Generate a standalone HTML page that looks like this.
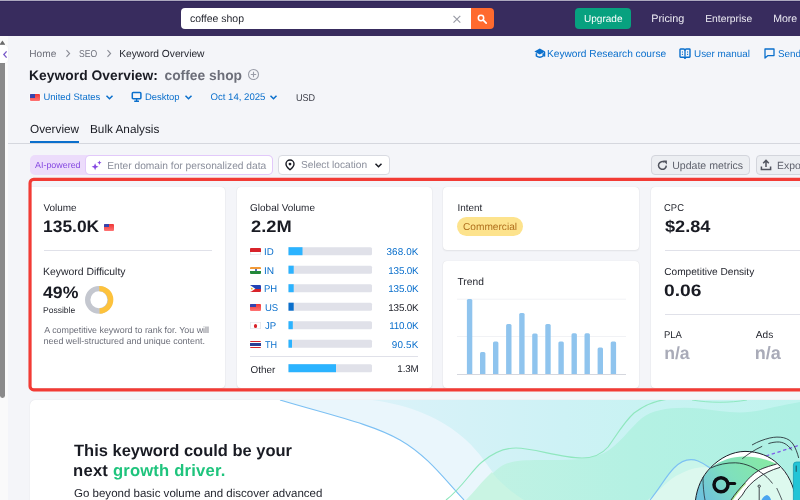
<!DOCTYPE html>
<html lang="en">
<head>
<meta charset="utf-8">
<title>Keyword Overview</title>
<style>
*{box-sizing:border-box;margin:0;padding:0}
html,body{width:800px;height:500px;overflow:hidden}
body{position:relative;background:#f4f5f9;font-family:"Liberation Sans",sans-serif;color:#191b23;-webkit-font-smoothing:antialiased;text-rendering:geometricPrecision}
.a{position:absolute}
.t{position:absolute;white-space:nowrap;line-height:1;transform-origin:0 0;top:calc(var(--b) + var(--c,0px) - .8465em)}
.b{font-weight:bold}
.blue{color:#0a6fcc}
.gray{color:#6c6e79}
.card{position:absolute;background:#fff;border-radius:4px;box-shadow:0 0 1px rgba(25,27,35,.14),0 1px 2px rgba(25,27,35,.07)}
.hr{position:absolute;height:1px;background:#e0e1e9}
.flag{position:absolute;width:10px;height:8px;overflow:hidden;border-radius:1px}
.bar{position:absolute;left:288.5px;width:83.5px;height:8px;background:#e0e1e9;border-radius:0 1.5px 1.5px 0;overflow:hidden}
.bar i{position:absolute;left:0;top:0;height:8px;background:#2bb3ff}
.tb{position:absolute;width:5px;background:#92c6ee;bottom:0}
</style>
</head>
<body>
<!-- top strip + header -->
<div class="a" style="left:0;top:0;width:800px;height:36px;background:#382c5e"></div>
<div class="a" style="left:0;top:0;width:800px;height:1px;background:#aca8be"></div>
<div class="a" style="left:0;top:1px;width:800px;height:1px;background:#2f2459"></div>

<!-- search -->
<div class="a" style="left:181px;top:7.5px;width:290px;height:21.8px;background:#fff;border-radius:4px 0 0 4px"></div>
<div class="t" id="h0" style="left:190px;--b:22px;--c:2.0px;font-size:10.49px;color:#1f212a">coffee shop</div>
<svg class="a" style="left:452px;top:14px" width="10" height="10" viewBox="0 0 10 10"><path d="M1.5 1.8 L8.3 8.6 M8.3 1.8 L1.5 8.6" stroke="#9a9ca6" stroke-width="1.2" fill="none"/></svg>
<div class="a" style="left:470.5px;top:7.5px;width:23.3px;height:21.8px;background:#ff6a2e;border-radius:0 4px 4px 0"></div>
<svg class="a" style="left:476px;top:13px" width="13" height="13" viewBox="0 0 13 13"><circle cx="5" cy="5" r="2.7" stroke="#fff" stroke-width="1.5" fill="none"/><path d="M7.2 7.2 L10.2 10.2" stroke="#fff" stroke-width="1.7" stroke-linecap="round"/></svg>

<!-- upgrade -->
<div class="a" style="left:575px;top:7.5px;width:56.3px;height:21.8px;background:#07a17f;border-radius:4px"></div>
<div class="t" id="h1" style="left:584px;--b:22px;--c:2.0px;font-size:10.05px;color:#fff">Upgrade</div>
<div class="t" id="h2" style="left:651.2px;--b:22px;--c:1.0px;font-size:10.81px;color:#ecebf3">Pricing</div>
<div class="t" id="h3" style="left:705.2px;--b:22px;--c:2.0px;font-size:10.32px;color:#ecebf3">Enterprise</div>
<div class="t" id="h4" style="left:773.2px;--b:22px;--c:1.0px;font-size:10.56px;color:#ecebf3">More</div>

<!-- left scrollbar & collapse -->
<div class="a" style="left:0;top:36px;width:7.6px;height:464px;background:#fafafa"></div>
<div class="a" style="left:0;top:43.5px;width:4.8px;height:354px;background:#8a8a8a;border-radius:0 0 2.4px 2.4px"></div>
<svg class="a" style="left:0;top:39.5px" width="6" height="4" viewBox="0 0 6 4"><path d="M0 4 L2.4 0.6 L4.8 4 Z" fill="#6a6a6a"/></svg>
<div class="a" style="left:-4px;top:44.8px;width:11.8px;height:18.4px;background:#fff;border-radius:3.5px;box-shadow:0 0 1px rgba(0,0,0,.12)"></div>
<svg class="a" style="left:2.4px;top:49.8px" width="6" height="9" viewBox="0 0 6 9"><path d="M4.6 1.4 L1.8 4.5 L4.6 7.6" stroke="#7a5cc9" stroke-width="1.3" fill="none"/></svg>


<!-- breadcrumbs -->
<div class="t gray" id="bc1" style="left:29.25px;--b:56.7px;--c:2.0px;font-size:10.13px">Home</div>
<svg class="a" style="left:65px;top:49px" width="6" height="9" viewBox="0 0 6 9"><path d="M1.5 1.2 L4.6 4.5 L1.5 7.8" stroke="#8a8c96" stroke-width="1.1" fill="none"/></svg>
<div class="t gray" id="bc2" style="left:78.5px;--b:56.7px;--c:2.0px;font-size:9.9px;transform:scaleX(0.87)">SEO</div>
<svg class="a" style="left:106px;top:49px" width="6" height="9" viewBox="0 0 6 9"><path d="M1.5 1.2 L4.6 4.5 L1.5 7.8" stroke="#8a8c96" stroke-width="1.1" fill="none"/></svg>
<div class="t" id="bc3" style="left:119.2px;--b:56.7px;--c:2.0px;font-size:10.24px;color:#1f212a">Keyword Overview</div>

<!-- right links -->
<svg class="a" style="left:533.6px;top:48.4px" width="12" height="11" viewBox="0 0 12 11"><path d="M5.8 0.6 L11.2 3.5 L5.8 6.4 L0.4 3.5 Z" fill="#0a6fcc"/><path d="M3 3.5 L5.8 2.2 L8.6 3.5 L5.8 4.9 Z" fill="#f4f5f9" opacity=".0"/><path d="M2.4 5.2 V8 Q5.8 10.6 9.2 8 V5.2" fill="none" stroke="#0a6fcc" stroke-width="1.5"/><path d="M10.6 3.8 V8.6" stroke="#0a6fcc" stroke-width="1.3"/></svg>
<div class="t blue" id="rl1" style="left:547px;--b:56.7px;--c:2.0px;font-size:10.16px">Keyword Research course</div>
<svg class="a" style="left:679px;top:47.6px" width="12" height="12" viewBox="0 0 12 12"><path d="M1 1.6 Q1 1 1.6 1 H4.6 Q6 1 6 2.2 Q6 1 7.4 1 H10.4 Q11 1 11 1.6 V8.6 Q11 9.2 10.4 9.2 H7.4 Q6 9.2 6 10.4 Q6 9.2 4.6 9.2 H1.6 Q1 9.2 1 8.6 Z" fill="none" stroke="#0a6fcc" stroke-width="1.4" stroke-linejoin="round"/><path d="M6 2 V10.6" stroke="#0a6fcc" stroke-width="1.3"/><path d="M3.4 3.4 V4.6 M3.4 5.8 V7 M8.6 3.4 V4.6 M8.6 5.8 V7" stroke="#0a6fcc" stroke-width="1"/></svg>
<div class="t blue" id="rl2" style="left:694px;--b:56.7px;--c:2.0px;font-size:9.88px">User manual</div>
<svg class="a" style="left:764px;top:48px" width="11" height="11" viewBox="0 0 11 11"><path d="M1 1 H10 V7.6 H4 L1 10 Z" fill="none" stroke="#0a6fcc" stroke-width="1.3" stroke-linejoin="round"/></svg>
<div class="t blue" id="rl3" style="left:778px;--b:56.7px;--c:2.0px;font-size:9.9px">Send feedback</div>

<!-- title -->
<div class="t b" id="ti1" style="left:29.1px;--b:79.8px;--c:1.0px;font-size:13.8px;letter-spacing:0.05px;color:#191b23">Keyword Overview:</div>
<div class="t b" id="ti2" style="left:164.5px;--b:79.8px;--c:1.0px;font-size:13.82px;color:#6c6e79">coffee shop</div>
<svg class="a" style="left:246.8px;top:68.4px" width="13" height="13" viewBox="0 0 13 13"><circle cx="6.5" cy="6.5" r="5" fill="none" stroke="#9a9da8" stroke-width="1.1"/><path d="M6.5 3.8 V9.2 M3.8 6.5 H9.2" stroke="#9a9da8" stroke-width="1.1"/></svg>

<!-- selectors -->
<div class="flag" style="left:30px;top:93.8px;width:10px;height:7.1px;background:linear-gradient(#ee3535,#ff7474);box-shadow:0 0 0 .6px rgba(255,255,255,.7)"><div class="a" style="left:0;top:0;width:5px;height:3.8px;background:#3544ad"></div></div>
<div class="t blue" id="s1" style="left:43.5px;--b:99.8px;--c:1.0px;font-size:9.46px">United States</div>
<svg class="a" style="left:105px;top:94px" width="9" height="7" viewBox="0 0 9 7"><path d="M1.5 1.8 L4.5 4.8 L7.5 1.8" stroke="#0a6fcc" stroke-width="1.5" fill="none"/></svg>
<svg class="a" style="left:131.2px;top:91.2px" width="11" height="12" viewBox="0 0 11 12"><rect x="1.3" y="1.5" width="8.6" height="6.2" rx="0.9" fill="none" stroke="#0a6fcc" stroke-width="1.5"/><path d="M5.6 7.8 V10 M3.2 10.3 H8" stroke="#0a6fcc" stroke-width="1.4"/></svg>
<div class="t blue" id="s2" style="left:145px;--b:99.8px;--c:0.0px;font-size:9.43px">Desktop</div>
<svg class="a" style="left:184px;top:94px" width="9" height="7" viewBox="0 0 9 7"><path d="M1.5 1.8 L4.5 4.8 L7.5 1.8" stroke="#0a6fcc" stroke-width="1.5" fill="none"/></svg>
<div class="t blue" id="s3" style="left:210.5px;--b:99.8px;--c:1.0px;font-size:9.61px">Oct 14, 2025</div>
<svg class="a" style="left:269px;top:94px" width="9" height="7" viewBox="0 0 9 7"><path d="M1.5 1.8 L4.5 4.8 L7.5 1.8" stroke="#0a6fcc" stroke-width="1.5" fill="none"/></svg>
<div class="t" id="s4" style="left:296px;--b:101px;--c:1.0px;font-size:9.9px;transform:scaleX(0.917);color:#3a3c46">USD</div>

<!-- tabs -->
<div class="t" id="tb1" style="left:30px;--b:133px;--c:1.0px;font-size:11.77px;color:#191b23">Overview</div>
<div class="t" id="tb2" style="left:90px;--b:133px;--c:1.0px;font-size:11.78px;color:#191b23">Bulk Analysis</div>
<div class="a" style="left:8px;top:143px;width:792px;height:1px;background:#d5d7de"></div>
<div class="a" style="left:30px;top:140.6px;width:49px;height:2.6px;background:#0a6fcc"></div>

<!-- filter row -->
<div class="a" style="left:29.5px;top:154.7px;width:243.7px;height:20.6px;background:#ecdcfb;border-radius:5px"></div>
<div class="a" style="left:86px;top:156.4px;width:186px;height:17.6px;background:#fff;border-radius:4px;box-shadow:0 0 0 1px #e2c9fa"></div>
<div class="t" id="ai" style="left:35px;--b:168.2px;--c:0.0px;font-size:8.92px;color:#8649e1">AI-powered</div>
<svg class="a" style="left:91px;top:160.2px" width="11" height="11" viewBox="0 0 11 11"><path d="M4.10 3.20 L5.08 5.72 L7.60 6.70 L5.08 7.68 L4.10 10.20 L3.12 7.68 L0.60 6.70 L3.12 5.72 Z" fill="#8649e1"/><path d="M8.40 0.50 L9.06 2.04 L10.60 2.70 L9.06 3.36 L8.40 4.90 L7.74 3.36 L6.20 2.70 L7.74 2.04 Z" fill="#8649e1"/></svg>
<div class="t" id="ph" style="left:107.2px;--b:168.7px;--c:2.0px;font-size:10.22px;color:#8a8e9b">Enter domain for personalized data</div>

<div class="a" style="left:277.8px;top:155.2px;width:112.2px;height:19.4px;background:#fff;border:1px solid #d9dbe2;border-radius:4px"></div>
<svg class="a" style="left:283.7px;top:159.4px" width="12" height="12" viewBox="0 0 12 12"><path d="M6 10.8 Q2 7.6 2 5 A4 4 0 0 1 10 5 Q10 7.6 6 10.8 Z" fill="none" stroke="#191b23" stroke-width="1.4" stroke-linejoin="round"/><circle cx="6" cy="5.1" r="1.4" fill="#191b23"/></svg>
<div class="t" id="sl" style="left:301px;--b:168px;--c:2.0px;font-size:10.17px;color:#8a8e9b">Select location</div>
<svg class="a" style="left:374px;top:162px" width="9" height="7" viewBox="0 0 9 7"><path d="M1.5 1.8 L4.5 4.8 L7.5 1.8" stroke="#191b23" stroke-width="1.5" fill="none"/></svg>

<div class="a" style="left:651px;top:155.4px;width:98.6px;height:19.2px;background:#eceef2;border:1px solid #d3d5dc;border-radius:4px"></div>
<svg class="a" style="left:656.6px;top:159.6px" width="11" height="11" viewBox="0 0 11 11"><path d="M9.3 5.6 A3.9 3.9 0 1 1 7.6 2.2" fill="none" stroke="#50535e" stroke-width="1.5"/><path d="M6 0.6 H9.9 V4.5 Z" fill="#50535e"/></svg>
<div class="t" id="um" style="left:672.2px;--b:168.7px;--c:1.0px;font-size:10.56px;color:#5e616c">Update metrics</div>
<div class="a" style="left:755.6px;top:155.4px;width:60px;height:19.2px;background:#eceef2;border:1px solid #d3d5dc;border-radius:4px"></div>
<svg class="a" style="left:760px;top:159px" width="12" height="12" viewBox="0 0 12 12"><path d="M6 8 V1.8 M3.2 4.2 L6 1.4 L8.8 4.2" fill="none" stroke="#50535e" stroke-width="1.5"/><path d="M1.4 7.4 V10.4 H10.6 V7.4" fill="none" stroke="#50535e" stroke-width="1.5"/></svg>
<div class="t" id="ex" style="left:777px;--b:168.7px;--c:2.0px;font-size:10.4px;color:#5e616c">Export</div>

<!-- SECTION:TOP-END -->

<!-- cards -->
<div class="card" style="left:29.2px;top:187px;width:196.1px;height:200.7px;border-radius:0 4px 4px 0"></div>
<div class="card" style="left:236.6px;top:187px;width:195.4px;height:200.7px"></div>
<div class="card" style="left:442.8px;top:187px;width:196.2px;height:63px"></div>
<div class="card" style="left:442.8px;top:260.5px;width:196.2px;height:127.2px"></div>
<div class="card" style="left:651px;top:187px;width:195px;height:200.7px"></div>

<!-- card 1 -->
<div class="t" id="c1a" style="left:43.5px;--b:211px;--c:1.0px;font-size:9.95px;color:#1f212a">Volume</div>
<div class="t b" id="c1b" style="left:42.5px;--b:232.3px;--c:1.0px;font-size:16.6px;transform:scaleX(1.05);color:#191b23">135.0K</div>
<div class="flag" style="left:104px;top:223.5px;width:9.6px;height:7.1px;background:linear-gradient(#ee3535,#ff7474);box-shadow:0 0 0 .6px rgba(255,255,255,.7)"><div class="a" style="left:0;top:0;width:4.8px;height:3.8px;background:#3544ad"></div></div>
<div class="hr" style="left:43.5px;top:250px;width:168.5px"></div>
<div class="t" id="c1c" style="left:43px;--b:275px;--c:2.0px;font-size:10.41px;color:#1f212a">Keyword Difficulty</div>
<div class="t b" id="c1d" style="left:43.2px;--b:298.2px;--c:1.0px;font-size:16.6px;transform:scaleX(1.065);color:#191b23">49%</div>
<div class="t" id="c1e" style="left:43px;--b:313px;--c:0.0px;font-size:8.5px;color:#1f212a">Possible</div>
<svg class="a" style="left:84px;top:285px" width="30" height="30" viewBox="0 0 30 30"><circle cx="14.9" cy="14.8" r="11.2" fill="none" stroke="#c4c7cf" stroke-width="5.4"/><path d="M15.3 3.6 A11.2 11.2 0 0 1 15.6 26" fill="none" stroke="#fdc23c" stroke-width="5.4"/></svg>
<div class="t gray" id="c1f" style="left:44.25px;--b:333px;--c:1.0px;font-size:8.9px">A competitive keyword to rank for. You will</div>
<div class="t gray" id="c1g" style="left:43.5px;--b:344px;--c:1.0px;font-size:8.95px">need well-structured and unique content.</div>

<!-- card 2 -->
<div class="t" id="c2a" style="left:250.1px;--b:211px;--c:1.0px;font-size:9.97px;color:#1f212a">Global Volume</div>
<div class="t b" id="c2b" style="left:250.6px;--b:232.1px;--c:1.0px;font-size:16.6px;transform:scaleX(1.101);color:#191b23">2.2M</div>

<div class="flag" style="left:250.4px;top:248.1px;width:10.5px;height:7.4px;background:#fff;box-shadow:inset 0 0 0 .6px #d9dbe1;"><div class="a" style="left:0;top:0;width:100%;height:50%;background:#d8232a"></div></div>
<div class="t blue" id="g0a" style="left:263.8px;--b:254.75px;--c:2.0px;font-size:9.9px;transform:scaleX(0.986)">ID</div>
<svg class="a" style="left:280px;top:240px" width="100" height="140" viewBox="280 240 100 140"><path d="M288.5 247.2 H370.5 Q372 247.2 372 248.7 V253.7 Q372 255.2 370.5 255.2 H288.5 Z" fill="#e0e1e9"/><rect x="288.5" y="247.2" width="14.0" height="8" fill="#2bb3ff"/><path d="M288.5 265.7 H370.5 Q372 265.7 372 267.2 V272.2 Q372 273.7 370.5 273.7 H288.5 Z" fill="#e0e1e9"/><rect x="288.5" y="265.7" width="5.2" height="8" fill="#2bb3ff"/><path d="M288.5 284.2 H370.5 Q372 284.2 372 285.7 V290.7 Q372 292.2 370.5 292.2 H288.5 Z" fill="#e0e1e9"/><rect x="288.5" y="284.2" width="5.2" height="8" fill="#2bb3ff"/><path d="M288.5 302.7 H370.5 Q372 302.7 372 304.2 V309.2 Q372 310.7 370.5 310.7 H288.5 Z" fill="#e0e1e9"/><rect x="288.5" y="302.7" width="5.2" height="8" fill="#0a6fcc"/><path d="M288.5 321.2 H370.5 Q372 321.2 372 322.7 V327.7 Q372 329.2 370.5 329.2 H288.5 Z" fill="#e0e1e9"/><rect x="288.5" y="321.2" width="4.3" height="8" fill="#2bb3ff"/><path d="M288.5 339.7 H370.5 Q372 339.7 372 341.2 V346.2 Q372 347.7 370.5 347.7 H288.5 Z" fill="#e0e1e9"/><rect x="288.5" y="339.7" width="3.5" height="8" fill="#2bb3ff"/><path d="M288.5 364.2 H370.5 Q372 364.2 372 365.7 V370.7 Q372 372.2 370.5 372.2 H288.5 Z" fill="#e0e1e9"/><rect x="288.5" y="364.2" width="47.5" height="8" fill="#2bb3ff"/></svg><div class="t blue" id="g0b" style="right:381.5px;--b:254.75px;--c:2.0px;font-size:9.9px;letter-spacing:0.13px">368.0K</div>
<div class="flag" style="left:250.4px;top:266.6px;width:10.5px;height:7.4px;background:#fff;"><div class="a" style="left:0;top:0;width:100%;height:34%;background:#f29a38"></div><div class="a" style="left:0;bottom:0;width:100%;height:34%;background:#23883a"></div><div class="a" style="left:4.2px;top:2.7px;width:2px;height:2px;border-radius:1px;background:#2a3a9a"></div></div>
<div class="t blue" id="g1a" style="left:263.8px;--b:274px;--c:1.0px;font-size:9.9px;transform:scaleX(1.028)">IN</div>
<div class="t blue" id="g1b" style="right:381.5px;--b:274px;--c:1.0px;font-size:9.9px;letter-spacing:-0.18px">135.0K</div>
<div class="flag" style="left:250.4px;top:285.1px;width:10.5px;height:7.4px;background:#fff;"><div class="a" style="left:0;top:0;width:100%;height:50%;background:#2343b5"></div><div class="a" style="left:0;bottom:0;width:100%;height:50%;background:#d8232a"></div><svg class="a" style="left:0;top:0" width="6" height="7.4" viewBox="0 0 6 7.4"><path d="M0 0 L5.4 3.7 L0 7.4 Z" fill="#fff"/><circle cx="1.8" cy="3.7" r="0.9" fill="#f5c12e"/></svg></div>
<div class="t blue" id="g2a" style="left:263.8px;--b:291.75px;--c:2.0px;font-size:9.9px;transform:scaleX(0.962)">PH</div>
<div class="t blue" id="g2b" style="right:381.5px;--b:291.75px;--c:2.0px;font-size:9.9px;letter-spacing:-0.18px">135.0K</div>
<div class="flag" style="left:250.4px;top:303.6px;width:10.5px;height:7.4px;background:#fff;"><div class="a" style="left:0;top:0;width:100%;height:100%;background:linear-gradient(#ee3535,#ff7474)"></div><div class="a" style="left:0;top:0;width:5.2px;height:3.9px;background:#3544ad"></div></div>
<div class="t blue" id="g3a" style="left:264.7px;--b:311px;--c:1.0px;font-size:9.9px;transform:scaleX(0.962)">US</div>
<div class="t " id="g3b" style="right:381.5px;--b:311px;--c:1.0px;font-size:9.9px;letter-spacing:-0.18px;color:#1f212a">135.0K</div>
<div class="flag" style="left:250.4px;top:322.1px;width:10.5px;height:7.4px;background:#fff;box-shadow:inset 0 0 0 .6px #d9dbe1;"><div class="a" style="left:3.5px;top:1.9px;width:3.6px;height:3.6px;border-radius:2px;background:#d8232a"></div></div>
<div class="t blue" id="g4a" style="left:264.7px;--b:328.75px;--c:2.0px;font-size:9.9px;transform:scaleX(0.976)">JP</div>
<div class="t blue" id="g4b" style="right:381.5px;--b:328.75px;--c:2.0px;font-size:9.9px;letter-spacing:-0.2px">110.0K</div>
<div class="flag" style="left:250.4px;top:340.6px;width:10.5px;height:7.4px;background:#fff;"><div class="a" style="left:0;top:0;width:100%;height:100%;background:#d8232a"></div><div class="a" style="left:0;top:1.2px;width:100%;height:5px;background:#fff"></div><div class="a" style="left:0;top:2.4px;width:100%;height:2.6px;background:#2c3f94"></div></div>
<div class="t blue" id="g5a" style="left:264.7px;--b:348px;--c:1.0px;font-size:9.9px;transform:scaleX(0.92)">TH</div>
<div class="t blue" id="g5b" style="right:381.5px;--b:348px;--c:1.0px;font-size:9.9px;letter-spacing:0.2px">90.5K</div>
<div class="hr" style="left:250.3px;top:355.8px;width:168.2px"></div>
<div class="t" id="g6a" style="left:250.5px;--b:372px;--c:2.0px;font-size:9.9px;color:#1f212a">Other</div>
<div class="t" id="g6b" style="right:381.5px;--b:372px;--c:1.0px;font-size:9.9px;letter-spacing:-0.2px;color:#1f212a">1.3M</div>

<!-- card 3 -->
<div class="t" id="c3a" style="left:457.5px;--b:211px;--c:1.0px;font-size:9.89px;color:#1f212a">Intent</div>
<div class="a" style="left:456.9px;top:217.1px;width:66.6px;height:18.8px;border-radius:9.4px;background:#fde38d"></div>
<div class="t" id="c3b" style="left:463px;--b:230px;--c:2.0px;font-size:10.15px;color:#b06f1c">Commercial</div>
<div class="t" id="c3c" style="left:457.5px;--b:285px;--c:2.0px;font-size:10.23px;color:#1f212a">Trend</div>

<svg class="a" style="left:450px;top:290px" width="190" height="90" viewBox="450 290 190 90"><rect x="457" y="298.7" width="169" height="1" fill="#f1f2f5"/><rect x="457" y="336" width="169" height="1" fill="#f1f2f5"/><rect x="457" y="374" width="169" height="1" fill="#d5d7de"/><path d="M466.9 374 V300.6 Q466.9 299.1 468.4 299.1 H470.8 Q472.3 299.1 472.3 300.6 V374 Z" fill="#8fc4ee"/><path d="M480.0 374 V353.5 Q480.0 352.0 481.5 352.0 H483.9 Q485.4 352.0 485.4 353.5 V374 Z" fill="#8fc4ee"/><path d="M493.0 374 V343.1 Q493.0 341.6 494.5 341.6 H496.9 Q498.4 341.6 498.4 343.1 V374 Z" fill="#8fc4ee"/><path d="M506.1 374 V325.5 Q506.1 324.0 507.6 324.0 H510.0 Q511.5 324.0 511.5 325.5 V374 Z" fill="#8fc4ee"/><path d="M519.2 374 V314.6 Q519.2 313.1 520.7 313.1 H523.1 Q524.6 313.1 524.6 314.6 V374 Z" fill="#8fc4ee"/><path d="M532.2 374 V334.9 Q532.2 333.4 533.7 333.4 H536.1 Q537.6 333.4 537.6 334.9 V374 Z" fill="#8fc4ee"/><path d="M545.3 374 V325.5 Q545.3 324.0 546.8 324.0 H549.2 Q550.7 324.0 550.7 325.5 V374 Z" fill="#8fc4ee"/><path d="M558.4 374 V343.1 Q558.4 341.6 559.9 341.6 H562.3 Q563.8 341.6 563.8 343.1 V374 Z" fill="#8fc4ee"/><path d="M571.5 374 V334.7 Q571.5 333.2 573.0 333.2 H575.4 Q576.9 333.2 576.9 334.7 V374 Z" fill="#8fc4ee"/><path d="M584.5 374 V334.7 Q584.5 333.2 586.0 333.2 H588.4 Q589.9 333.2 589.9 334.7 V374 Z" fill="#8fc4ee"/><path d="M597.6 374 V349.0 Q597.6 347.5 599.1 347.5 H601.5 Q603.0 347.5 603.0 349.0 V374 Z" fill="#8fc4ee"/><path d="M610.7 374 V343.1 Q610.7 341.6 612.2 341.6 H614.6 Q616.1 341.6 616.1 343.1 V374 Z" fill="#8fc4ee"/></svg>

<!-- card 4 -->
<div class="t" id="c4a" style="left:664.2px;--b:211px;--c:1.0px;font-size:9.9px;transform:scaleX(0.958);color:#1f212a">CPC</div>
<div class="t b" id="c4b" style="left:664.8px;--b:232.1px;--c:1.0px;font-size:16.6px;transform:scaleX(1.095);color:#191b23">$2.84</div>
<div class="hr" style="left:664.6px;top:249.5px;width:168px"></div>
<div class="t" id="c4c" style="left:664.2px;--b:275px;--c:2.0px;font-size:10.14px;color:#1f212a">Competitive Density</div>
<div class="t b" id="c4d" style="left:664.2px;--b:295.8px;--c:1.0px;font-size:16.6px;transform:scaleX(1.159);color:#191b23">0.06</div>
<div class="hr" style="left:664.6px;top:313.7px;width:168px"></div>
<div class="t" id="c4e" style="left:664.2px;--b:338.2px;--c:1.0px;font-size:9.9px;transform:scaleX(0.961);color:#1f212a">PLA</div>
<div class="t b" id="c4f" style="left:664.2px;--b:359.3px;--c:1.0px;font-size:17.6px;letter-spacing:0px;color:#a9abb8">n/a</div>
<div class="t" id="c4g" style="left:755.8px;--b:338.2px;--c:1.0px;font-size:10.11px;color:#1f212a">Ads</div>
<div class="t b" id="c4h" style="left:754.8px;--b:359.3px;--c:0.0px;font-size:18.05px;letter-spacing:0px;color:#a9abb8">n/a</div>

<!-- red highlight -->
<svg class="a" style="left:0;top:170px" width="800" height="230" viewBox="0 170 800 230"><rect x="30.05" y="179.3" width="900" height="210.5" rx="3.6" fill="none" stroke="#f23b35" stroke-width="3.15"/></svg>

<!-- SECTION:CARDS-END -->

<!-- banner -->
<div class="a" style="left:30px;top:400px;width:800px;height:120px;background:#fff;border-radius:5px;overflow:hidden;box-shadow:0 0 1px rgba(25,27,35,.16)">
<svg class="a" style="left:0;top:0" width="770" height="100" viewBox="30 400 770 100">
<defs>
<linearGradient id="gB" x1="372" y1="0" x2="800" y2="0" gradientUnits="userSpaceOnUse"><stop offset="0" stop-color="#dbf2f9"/><stop offset=".45" stop-color="#cdf2f5"/><stop offset="1" stop-color="#c0f4ee"/></linearGradient>
<linearGradient id="gM" x1="470" y1="0" x2="800" y2="0" gradientUnits="userSpaceOnUse"><stop offset="0" stop-color="#c2f2e4"/><stop offset=".5" stop-color="#b4f1e3"/><stop offset="1" stop-color="#aef0e4"/></linearGradient>
<linearGradient id="gBall" x1="760" y1="455" x2="705" y2="500" gradientUnits="userSpaceOnUse"><stop offset="0" stop-color="#86e8a6"/><stop offset=".5" stop-color="#7fe0bd"/><stop offset="1" stop-color="#6fc3dc"/></linearGradient>
</defs>
<!-- region A: very light blue -->
<path d="M280 400 C330 415 372 424 400 440 C428 456 445 480 464 500 L800 500 L800 400 Z" fill="#eaf6fc"/>
<!-- region B: light cyan -->
<path d="M372 400 C410 405 442 418 466 440 C480 453 488 466 494 474 C502 484 512 492 524 500 L800 500 L800 400 Z" fill="url(#gB)"/>
<!-- pale overlap wedge -->
<!-- mint region -->
<path d="M467 500 C480 488 490 474 500 467 C510 461 520 460 540 460 C560 460 586 461 604 453 C618 446 630 428 642 418 C654 409 674 406.5 700 408.5 C720 411 740 415 762 410 C778 406 790 404 800 402 L800 500 Z" fill="url(#gM)"/>
<path d="M466 500 C474 492 480 484 486 478 C488 476 490 474 492 472 C496 478 508 490 524 500 Z" fill="#c9f4e3"/>
<path d="M650 500 C660 488 666 476 674 468 C682 460 690 458 698 461 C703 463 707 466 710 468 L730 500 Z" fill="#c9f5ea"/>
<!-- whitish mint hill -->
<path d="M648 500 C660 490 670 478 680 474 C690 469 700 466 712 468 L730 500 Z" fill="#dcf8ee"/>
<!-- lines -->
<path d="M280 400 C330 415 372 424 400 440 C428 456 445 480 464 500" fill="none" stroke="#7cc0f3" stroke-width="1.1"/>
<path d="M446 500 C462 488 472 470 482 462 C494 452 504 448 516 448 C534 448 560 458 582 458 C594 458 602 454 608 447 C616 436 624 422 634 413 C646 404 657 400 670 399" fill="none" stroke="#8fe7be" stroke-width="1.15"/>
<path d="M692 400 C710 403 730 403 747 400" fill="none" stroke="#8fe8c0" stroke-width="1"/>
<path d="M650 500 C660 488 666 476 674 468 C682 460 690 458 698 461 C703 463 707 466 710 468" fill="none" stroke="#7cc0f3" stroke-width="1.1"/>
<!-- dashed purple -->
<path d="M766 456 L800 445" stroke="#7f5fe8" stroke-width="1.3" stroke-dasharray="3.4 2.6" fill="none"/>
<!-- ball -->
<path d="M695.5 500 C697 488 702 476 710.6 467.6 C720 458 732 451.6 745 451.4 C758 451.4 770 456 778 464.2 C788 473 794 486 796 500 Z" fill="#fff"/>
<path d="M695.5 500 C697 488 702 476 710.6 468 C721 460 733 456.4 745 456.6 C757 456.8 768 459.6 776.7 464 C768 466.5 763 468 758.8 470.4 C753 474 749 478 745 482.8 C740 488 735 494 731 500 Z" fill="url(#gBall)"/>
<path d="M780 467.4 C771 470 764 473.6 758.8 477.3 C752 482 746 488 742.3 495 L738 500 L796 500 C794 488 789 476 780 467.4 Z" fill="#ddf9ee"/>
<path d="M776.7 464 C768 466.5 763 468 758.8 470.4 C753 474 749 478 745 482.8 C740 488 735 494 731 500 L738 500 L742.3 495 C746 488 752 482 758.8 477.3 C764 473.6 771 470 780 467.4 Z" fill="#fff"/>
<path d="M731 500 C735 494 740 488 745 482.8 L746.2 483.8 C741 489 736.5 495 733 500 Z" fill="#a6e78c"/>
<path d="M695.5 500 C697 488 702 476 710.6 467.6 C720 458 732 451.6 745 451.4 C758 451.4 770 456 778 464.2 C788 473 794 486 796 500" fill="none" stroke="#1b1d26" stroke-width="1"/>
<path d="M776.7 464 C768 466.5 763 468 758.8 470.4 C753 474 749 478 745 482.8 C740 488 735 494 731 500 M780 467.4 C771 470 764 473.6 758.8 477.3 C752 482 746 488 742.3 495 L738 500" fill="none" stroke="#1b1d26" stroke-width=".9"/>
<path d="M710.6 468 C718 464.5 727 462.6 735.4 462.8 C741 463 746 464.4 750.5 466.3 C754 468 756.6 469.4 758.8 471 C762 473 764.6 475 767 477.3 C769.4 479.6 771 481.6 772.5 483.5" fill="none" stroke="#1b1d26" stroke-width=".8"/>
<path d="M703 477 C703 486 703.8 494 705 500 M776.7 488 C778.6 492 780.4 496 782 500" fill="none" stroke="#1b1d26" stroke-width=".7"/>
<circle cx="721" cy="484.8" r="7" fill="none" stroke="#0d0e12" stroke-width="3.5"/>
<path d="M728.6 483.5 H734.6" stroke="#0d0e12" stroke-width="3.2" stroke-linecap="round"/>
<path d="M759.2 487.4 V500" stroke="#1b1d26" stroke-width=".8"/><circle cx="759.2" cy="486.2" r="1.2" fill="#ddf9ee" stroke="#1b1d26" stroke-width=".8"/>
<path d="M761.5 500 C763 497 765 495.4 767 495 C769 495.6 770.4 497.6 771 500 Z" fill="#4aa5f0"/>
<!-- arcs above ball -->
<path d="M752 445 C758 441.5 764 439.4 769.8 438 C774.5 436.9 779.5 436.8 783.5 437.7 C788 438.8 791 441 793 444 C795.6 448 797.4 453 798.7 458" fill="none" stroke="#1b1d26" stroke-width=".8"/>
<path d="M768.4 443.6 C772 442.4 776 441.8 779.4 442 C785 442.6 789 446 791.8 450.4" fill="none" stroke="#1b1d26" stroke-width=".8"/>
<path d="M742.3 458.7 C748 454 755 449.6 762.2 446.3" fill="none" stroke="#1b1d26" stroke-width=".8"/>
<!-- teal bar -->
<path d="M793.4 500 V465 Q793.4 462 796.4 462 H800 V500 Z" fill="#22c4d6"/>
<path d="M793.4 500 V465 Q793.4 462 796.4 462 H800" fill="none" stroke="#1a9db2" stroke-width=".8"/>
<path d="M796.2 465.6 V471.8" stroke="#1b1d26" stroke-width=".7"/>
</svg>
</div>
<div class="t b" id="b1" style="left:74px;--b:456px;--c:1.0px;font-size:16.49px;letter-spacing:-0.0px;color:#191b23">This keyword could be your</div>
<div class="t b" id="b2" style="left:73.1px;--b:476px;--c:1.0px;font-size:16.6px;letter-spacing:0.21px;color:#191b23">next <span id="b2g" style="color:#1fc47d">growth driver.</span></div>
<div class="t" id="b3" style="left:74px;--b:497px;--c:2.0px;font-size:11.52px;color:#1f212a">Go beyond basic volume and discover advanced</div>

<!-- SECTION:BANNER-END -->
</body>
</html>
